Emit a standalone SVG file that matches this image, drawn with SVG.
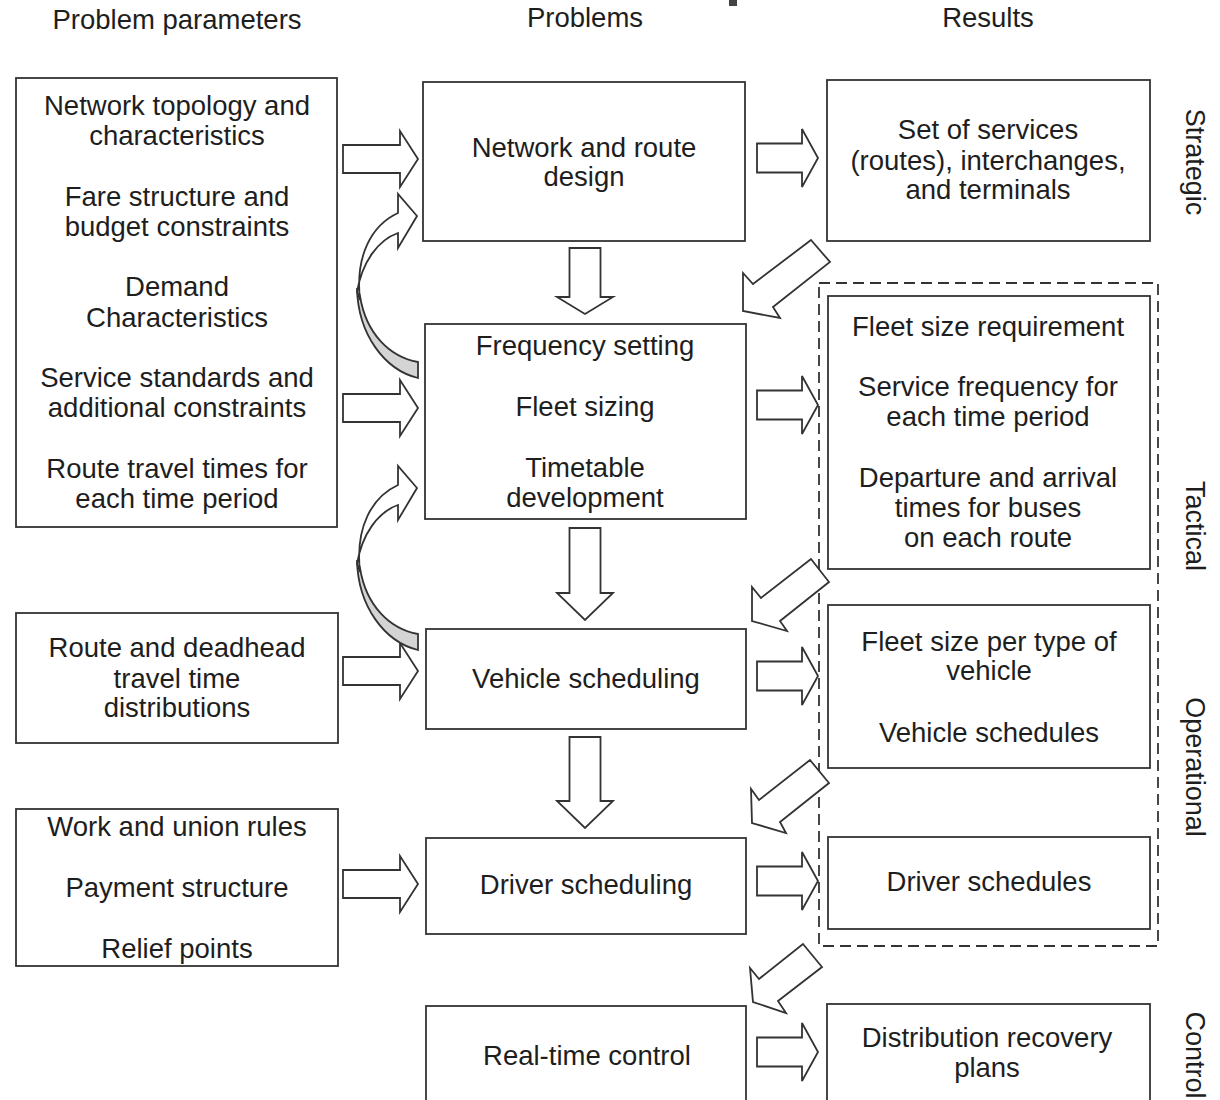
<svg xmlns="http://www.w3.org/2000/svg" width="1220" height="1100" viewBox="0 0 1220 1100">
<style>
.box{fill:#fff;stroke:#333;stroke-width:1.8}
.arr{fill:#fff;stroke:#333;stroke-width:1.8;stroke-linejoin:miter}
.grey{fill:#d4d4d4;stroke:#333;stroke-width:1.8}
text{font-family:"Liberation Sans",Arial,sans-serif;font-size:27.5px;fill:#1e1e1e;text-anchor:middle}
.hdr{font-size:27.5px}
.side{font-size:27px}
</style>
<defs>
<path id="rarrL" class="arr" d="M0,-14 H57 V-28 L75,0 L57,28 V14 H0 Z"/>
<path id="rarrR" class="arr" d="M0,-14.5 H45 V-29 L61,0 L45,29 V14.5 H0 Z"/>
<g id="curve">
<path class="grey" d="M357,288 C358,335 385,370 418,378 L418,362 C390,357 366,334 360,296 Z"/>
<path class="arr" d="M360,300 C355,255 372,225 398,213 L398,194 L417,216 L398,248 L398,233 C378,240 362,262 357,292 Z"/>
</g>
</defs>
<rect x="729" y="0" width="8" height="6" fill="#444"/>
<g id="headers">
<text class="hdr" x="177" y="29">Problem parameters</text>
<text class="hdr" x="585" y="27">Problems</text>
<text class="hdr" x="988" y="27">Results</text>
</g>
<g id="levels">
<text class="side" transform="translate(1186,162) rotate(90)">Strategic</text>
<text class="side" transform="translate(1186,526) rotate(90)">Tactical</text>
<text class="side" transform="translate(1186,767) rotate(90)">Operational</text>
<text class="side" transform="translate(1186,1055) rotate(90)">Control</text>
</g>
<g id="node-params1">
<rect class="box" x="16" y="78" width="321" height="449"/>
<text x="177" y="115">Network topology and</text>
<text x="177" y="145">characteristics</text>
<text x="177" y="206">Fare structure and</text>
<text x="177" y="236">budget constraints</text>
<text x="177" y="296">Demand</text>
<text x="177" y="327">Characteristics</text>
<text x="177" y="387">Service standards and</text>
<text x="177" y="417">additional constraints</text>
<text x="177" y="478">Route travel times for</text>
<text x="177" y="508">each time period</text>
</g>
<g id="node-params2">
<rect class="box" x="16" y="613" width="322" height="130"/>
<text x="177" y="657">Route and deadhead</text>
<text x="177" y="688">travel time</text>
<text x="177" y="717">distributions</text>
</g>
<g id="node-params3">
<rect class="box" x="16" y="809" width="322" height="157"/>
<text x="177" y="836">Work and union rules</text>
<text x="177" y="897">Payment structure</text>
<text x="177" y="958">Relief points</text>
</g>
<g id="node-network">
<rect class="box" x="423" y="82" width="322" height="159"/>
<text x="584" y="157">Network and route</text>
<text x="584" y="186">design</text>
</g>
<g id="node-frequency">
<rect class="box" x="425" y="324" width="321" height="195"/>
<text x="585" y="355">Frequency setting</text>
<text x="585" y="416">Fleet sizing</text>
<text x="585" y="477">Timetable</text>
<text x="585" y="507">development</text>
</g>
<g id="node-vehicle">
<rect class="box" x="426" y="629" width="320" height="100"/>
<text x="586" y="688">Vehicle scheduling</text>
</g>
<g id="node-driver">
<rect class="box" x="426" y="838" width="320" height="96"/>
<text x="586" y="894">Driver scheduling</text>
</g>
<g id="node-realtime">
<rect class="box" x="426" y="1006" width="320" height="110"/>
<text x="587" y="1065">Real-time control</text>
</g>
<g id="node-services">
<rect class="box" x="827" y="80" width="323" height="161"/>
<text x="988" y="139">Set of services</text>
<text x="988" y="170">(routes), interchanges,</text>
<text x="988" y="199">and terminals</text>
</g>
<rect x="819" y="283" width="339" height="663" fill="none" stroke="#333" stroke-width="1.8" stroke-dasharray="11,6"/>
<g id="node-fleet">
<rect class="box" x="828" y="296" width="322" height="273"/>
<text x="988" y="336">Fleet size requirement</text>
<text x="988" y="396">Service frequency for</text>
<text x="988" y="426">each time period</text>
<text x="988" y="487">Departure and arrival</text>
<text x="988" y="517">times for buses</text>
<text x="988" y="547">on each route</text>
</g>
<g id="node-vehschedules">
<rect class="box" x="828" y="605" width="322" height="163"/>
<text x="989" y="651">Fleet size per type of</text>
<text x="989" y="680">vehicle</text>
<text x="989" y="742">Vehicle schedules</text>
</g>
<g id="node-drvschedules">
<rect class="box" x="828" y="837" width="322" height="92"/>
<text x="989" y="891">Driver schedules</text>
</g>
<g id="node-recovery">
<rect class="box" x="827" y="1004" width="323" height="110"/>
<text x="987" y="1047">Distribution recovery</text>
<text x="987" y="1077">plans</text>
</g>
<g id="connectors">
<use href="#rarrL" x="343" y="159"/>
<use href="#rarrL" x="343" y="408"/>
<use href="#rarrL" x="343" y="671"/>
<use href="#rarrL" x="343" y="884"/>
<use href="#rarrR" x="757" y="158"/>
<use href="#rarrR" x="757" y="405"/>
<use href="#rarrR" x="757" y="676"/>
<use href="#rarrR" x="757" y="881"/>
<use href="#rarrR" x="757" y="1052"/>
<path class="arr" d="M569.5,248 H600.5 V297 H613 L585,314 L557,297 H569.5 Z"/>
<path class="arr" d="M569.5,528 H600.5 V593 H613 L585,620 L557,593 H569.5 Z"/>
<path class="arr" d="M569.5,737 H600.5 V801 H613 L585,828 L557,801 H569.5 Z"/>
<path class="arr" d="M811,240 L830,262 L773,307 L780,318 L743,311 L743,273 L753,284 Z"/>
<path class="arr" d="M811,559 L829,582 L780,621 L787,631 L752,621 L752,587 L761,598 Z"/>
<path class="arr" d="M810,760 L829,783 L780,822 L786,833 L752,823 L751,789 L759,800 Z"/>
<path class="arr" d="M803,944 L822,967 L778,1001 L786,1013 L753,1002 L750,968 L759,979 Z"/>
<use href="#curve"/>
<use href="#curve" y="272"/>
</g>
</svg>
